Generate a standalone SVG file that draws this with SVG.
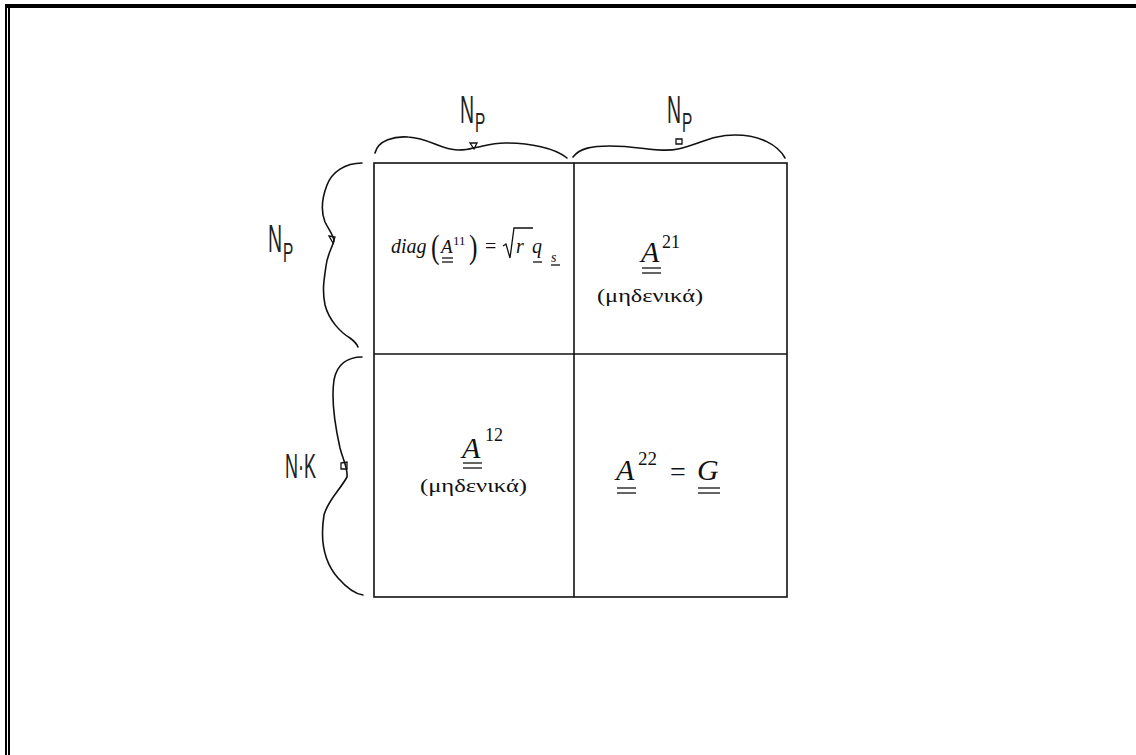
<svg xmlns="http://www.w3.org/2000/svg" width="1136" height="755" viewBox="0 0 1136 755">
<style>
.brace{fill:none;stroke:#111;stroke-width:1.6;stroke-linejoin:round;stroke-linecap:round}
.tick{fill:none;stroke:#111;stroke-width:1.3}
.lbl{font-family:"Liberation Sans",Arial,sans-serif;fill:#222}
.m{font-family:"Liberation Serif","Times New Roman",serif;fill:#111}
.i{font-style:italic}
.ul{stroke:#111;stroke-width:1.3}
</style>
<rect width="1136" height="755" fill="#fff"/>
<g id="frame">
<rect x="5" y="4" width="1131" height="4" fill="#000"/>
<rect x="5" y="4" width="2" height="751" fill="#000"/>
<rect x="8" y="8" width="2" height="747" fill="#000"/>
</g>
<g id="grid" fill="none" stroke="#111" stroke-width="1.6">
<rect x="374" y="163" width="413" height="434"/>
<line x1="574" y1="163" x2="574" y2="597"/>
<line x1="374" y1="354" x2="787" y2="354"/>
</g>
<g id="connectors">
<path class="brace" d="M375,153 C378,140 395,136 408,137 C430,138 440,150 458,150 C466,150 470,149 473,148 C482,147 490,143 505,143 C530,143 555,148 567,158"/>
<path class="tick" d="M470,143 L477,143 L474,149 Z"/>
<path class="brace" d="M573,157 C580,148 592,146 610,146 C640,146 660,153 678,149 C700,144 712,135 735,135 C760,135 778,145 785,158"/>
<path class="tick" d="M676,139 L682,139 L682,144 L676,144 Z"/>
<path class="brace" d="M362,163 C345,163 332,172 327,185 C322,198 321,212 325,222 C329,230 334,236 334,241 C331,250 327,256 326,266 C324,280 322,290 325,305 C329,320 340,332 350,338 C354,341 357,344 358,347"/>
<path class="tick" d="M329,236 L335,237 L333,243 Z"/>
<path class="brace" d="M362,357 C348,357 337,364 334,380 C331,400 336,430 340,448 C343,460 348,468 347,477 C340,490 328,500 324,515 C320,540 324,562 338,578 C346,587 355,594 363,595"/>
<path class="tick" d="M341,463 L347,462 L347,469 L341,469 Z"/>
</g>
<g id="label-top-left">
<text class="lbl" transform="translate(460,123) scale(0.5,1)" font-size="39">N</text>
<text class="lbl" transform="translate(475,132) scale(0.55,1)" font-size="28">P</text>
</g>
<g id="label-top-right">
<text class="lbl" transform="translate(667,123) scale(0.5,1)" font-size="39">N</text>
<text class="lbl" transform="translate(682,132) scale(0.55,1)" font-size="28">P</text>
</g>
<g id="label-left-top">
<text class="lbl" transform="translate(268,252) scale(0.5,1)" font-size="39">N</text>
<text class="lbl" transform="translate(283,262) scale(0.55,1)" font-size="28">P</text>
</g>
<g id="label-left-bottom">
<text class="lbl" transform="translate(285,478) scale(0.5,1)" font-size="36">N·K</text>
</g>
<g id="cell-11">
<text class="m i" x="391" y="253" font-size="20">diag</text>
<text class="m" transform="translate(431,258) scale(0.75,1)" font-size="34">(</text>
<text class="m i" x="441" y="253" font-size="19">A</text>
<line class="ul" x1="442" y1="258" x2="453" y2="258"/>
<line class="ul" x1="442" y1="262" x2="453" y2="262"/>
<text class="m" x="453" y="245" font-size="13">11</text>
<text class="m" transform="translate(469,258) scale(0.75,1)" font-size="34">)</text>
<text class="m" x="485" y="253" font-size="20">=</text>
<path d="M503,246 L506,244 L510,258 L514,228 L533,228" fill="none" stroke="#111" stroke-width="1.3"/>
<text class="m i" x="516" y="253" font-size="20">r</text>
<text class="m i" x="532" y="253" font-size="20">q</text>
<line class="ul" x1="533" y1="262" x2="542" y2="262"/>
<text class="m i" x="551" y="262" font-size="14">s</text>
<line class="ul" x1="551" y1="265" x2="560" y2="265"/>
</g>
<g id="cell-21">
<text class="m i" x="641" y="262" font-size="30">A</text>
<line class="ul" x1="642" y1="268" x2="661" y2="268"/>
<line class="ul" x1="642" y1="273" x2="661" y2="273"/>
<text class="m" x="662" y="248" font-size="18">21</text>
<text class="m" x="597" y="302" font-size="18" textLength="106" lengthAdjust="spacingAndGlyphs">(μηδενικά)</text>
</g>
<g id="cell-12">
<text class="m i" x="462" y="458" font-size="30">A</text>
<line class="ul" x1="463" y1="463" x2="482" y2="463"/>
<line class="ul" x1="463" y1="468" x2="482" y2="468"/>
<text class="m" x="485" y="441" font-size="18">12</text>
<text class="m" x="420" y="492" font-size="18" textLength="107" lengthAdjust="spacingAndGlyphs">(μηδενικά)</text>
</g>
<g id="cell-22">
<text class="m i" x="616" y="480" font-size="30">A</text>
<line class="ul" x1="617" y1="488" x2="636" y2="488"/>
<line class="ul" x1="617" y1="493" x2="636" y2="493"/>
<text class="m" x="638" y="465" font-size="19">22</text>
<text class="m" x="670" y="481" font-size="28">=</text>
<text class="m i" x="697" y="480" font-size="30">G</text>
<line class="ul" x1="698" y1="488" x2="720" y2="488"/>
<line class="ul" x1="698" y1="493" x2="720" y2="493"/>
</g>
</svg>
